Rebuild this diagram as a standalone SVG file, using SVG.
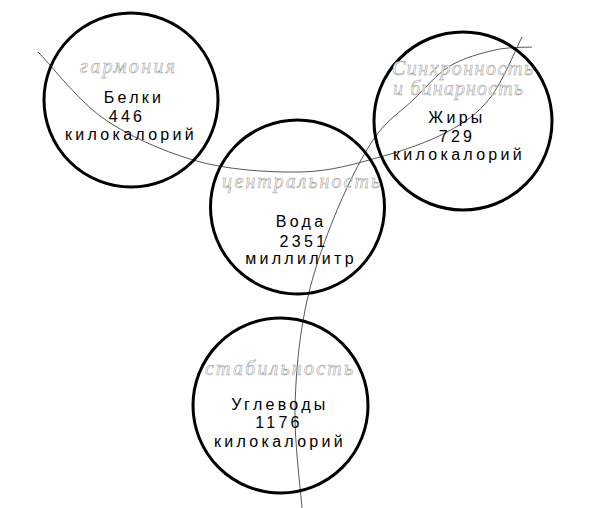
<svg xmlns="http://www.w3.org/2000/svg" width="591" height="508" viewBox="0 0 591 508">
<style>
.c{fill:none;stroke:#000;stroke-width:3}
.ln{fill:none;stroke:#444;stroke-width:0.9}
.t{font-family:"Liberation Sans",Arial,sans-serif;font-size:16px;letter-spacing:3.3px;fill:#000;text-anchor:middle}
.q{font-family:"Liberation Serif","DejaVu Serif",serif;font-style:italic;font-size:20px;fill:#fff;stroke:#a0a0a0;stroke-width:0.55}
</style>
<rect width="591" height="508" fill="#fff"/>
<g id="connectors">
<path class="ln" d="M38,52 C48.3,61.7 74,96 100,116 C126,135 160,150 193,160 C226,170 269,172.5 300,172 C331,171.5 355.5,163.7 380,157 C404.5,150.3 428.7,141.8 447,132 C465.3,122.2 477.5,113.8 490,98 C502.5,82.2 516.7,47.2 522,37"/>
<path class="ln" d="M302,508 C300.8,491.7 294.5,443 295,410 C295.5,377 298.7,341.7 305,310 C311.3,278.3 321.7,248.3 333,220 C344.3,191.7 359.7,160 373,140 C386.3,120 400.2,112.3 413,100 C425.8,87.7 436.3,74.3 450,66 C463.7,57.7 481.3,53.2 495,50 C508.7,46.8 525.8,47.5 532,47"/>
</g>
<g id="belki">
<circle class="c" cx="131" cy="100" r="87"/>
<text class="q" x="80" y="73" textLength="95">гармония</text>
<text class="t" x="134" y="103">Белки</text>
<text class="t" x="127" y="122">446</text>
<text class="t" x="131" y="140">килокалорий</text>
</g>
<g id="zhiry">
<circle class="c" cx="463" cy="121" r="89"/>
<text class="q" x="392" y="75" textLength="141">Синхронность</text>
<text class="q" x="393" y="95" textLength="130">и бинарность</text>
<text class="t" x="457" y="123">Жиры</text>
<text class="t" x="457" y="142">729</text>
<text class="t" x="459" y="160">килокалорий</text>
</g>
<g id="voda">
<circle class="c" cx="297.5" cy="207" r="87"/>
<text class="q" x="222" y="188" textLength="158">центральность</text>
<text class="t" x="301" y="227">Вода</text>
<text class="t" x="304" y="247">2351</text>
<text class="t" x="301" y="264">миллилитр</text>
</g>
<g id="uglevody">
<circle class="c" cx="280.5" cy="405.5" r="87.5"/>
<text class="q" x="205" y="375" textLength="148">стабильность</text>
<text class="t" x="280" y="410">Углеводы</text>
<text class="t" x="279" y="428">1176</text>
<text class="t" x="280" y="447">килокалорий</text>
</g>
</svg>
